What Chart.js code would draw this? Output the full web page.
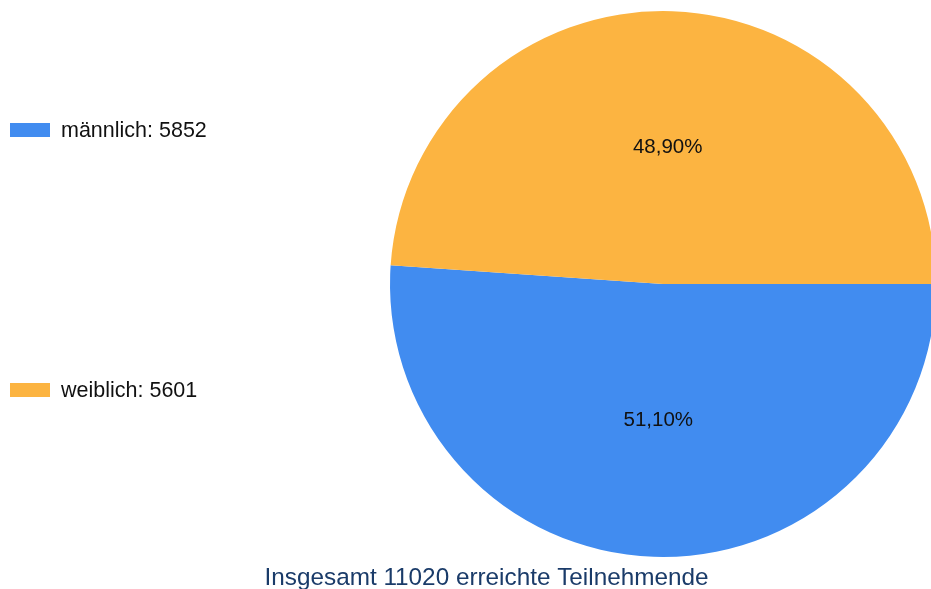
<!DOCTYPE html>
<html>
<head>
<meta charset="utf-8">
<script src="https://cdn.jsdelivr.net/npm/chart.js@4.4.0/dist/chart.umd.min.js"></script>
<style>
html,body{margin:0;padding:0;background:#fff;overflow:hidden;width:931px;height:589px;}
#wrap{position:absolute;left:0;top:0;width:940px;height:589px;}
</style>
</head>
<body>
<div id="wrap"><canvas id="c"></canvas></div>
<script>
const categories = ["männlich", "weiblich"];
const values = [5852, 5601];
const colors = ["#418CF0", "#FCB441"];
const titleText = "Insgesamt 11020 erreichte Teilnehmende";

const FONT = "'Liberation Sans', Arial, sans-serif";

const pctLabels = {
  id: 'pctLabels',
  afterDatasetsDraw(chart) {
    const ctx = chart.ctx;
    const meta = chart.getDatasetMeta(0);
    const total = values.reduce((a, b) => a + b, 0);
    ctx.save();
    ctx.font = "20.5px " + FONT;
    ctx.fillStyle = "#111";
    ctx.textAlign = "center";
    ctx.textBaseline = "middle";
    meta.data.forEach((arc, i) => {
      const p = arc.getCenterPoint();
      const txt = (values[i] / total * 100).toFixed(2).replace('.', ',') + '%';
      ctx.fillText(txt, p.x, p.y);
    });
    ctx.restore();
  }
};

const sideLegend = {
  id: 'sideLegend',
  afterDraw(chart) {
    const ctx = chart.ctx;
    const ys = [130, 390];
    ctx.save();
    ctx.font = "21.5px " + FONT;
    ctx.textBaseline = "middle";
    categories.forEach((c, i) => {
      ctx.fillStyle = colors[i];
      ctx.fillRect(10, ys[i] - 7, 40, 14);
      ctx.fillStyle = "#111";
      ctx.fillText(c + ": " + values[i], 61, ys[i] + 1);
    });
    ctx.font = "24.3px " + FONT;
    ctx.fillStyle = "#1A3B69";
    ctx.textAlign = "center";
    ctx.fillText(titleText, 486.5, 578);
    ctx.restore();
  }
};

new Chart(document.getElementById('c'), {
  type: 'pie',
  data: {
    labels: categories,
    datasets: [{
      data: values,
      backgroundColor: colors,
      borderWidth: 0
    }]
  },
  options: {
    responsive: true,
    maintainAspectRatio: false,
    animation: false,
    rotation: 90,
    layout: { padding: { left: 390, right: 4, top: 11, bottom: 32 } },
    plugins: {
      legend: { display: false },
      tooltip: { enabled: false },
      title: { display: false }
    }
  },
  plugins: [pctLabels, sideLegend]
});
</script>
</body>
</html>
